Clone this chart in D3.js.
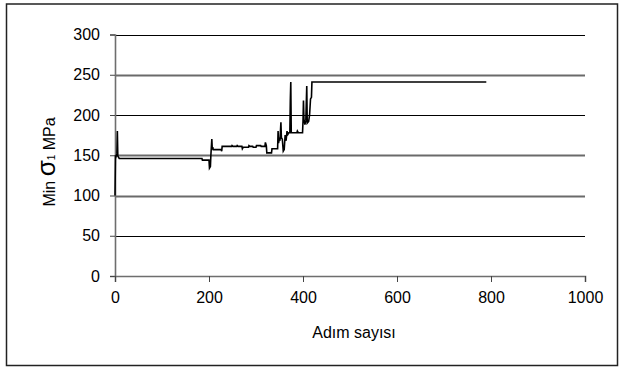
<!DOCTYPE html>
<html>
<head>
<meta charset="utf-8">
<script src="https://cdn.jsdelivr.net/npm/d3@7"></script>
<style>
  html, body { margin: 0; padding: 0; background: #fff; }
  svg { display: block; font-family: "Liberation Sans", Arial, sans-serif; }
</style>
</head>
<body>
<svg id="chart" width="619" height="367"></svg>
<script>
// Step number (Adım sayısı) and minimum principal stress σ1 (MPa)
const steps = [0, 1, 2, 4, 5, 6, 8, 9, 185, 186, 200, 201, 203, 204, 206, 207, 208, 209, 226, 227,
  228, 248, 249, 251, 259, 260, 262, 270, 271, 273, 284, 285, 287, 293, 294, 300, 301, 310, 311, 319,
  320, 322, 323, 333, 334, 346, 347, 348, 350, 351, 353, 354, 356, 358, 360, 362, 364, 366, 368, 370,
  372, 373, 374, 375, 387, 388, 390, 399, 400, 401, 402, 404, 406, 408, 409, 412, 414, 416, 418, 419, 790];
const sigma1 = [100, 150, 148, 152, 180, 149, 147, 146, 146, 144, 144, 134, 136, 150, 170, 157, 160, 157, 157, 155,
  161, 161, 162, 161, 161, 162, 161, 161, 158, 160, 160, 162, 161, 161, 160, 160, 162, 162, 161, 161,
  166, 162, 153, 153, 158, 158, 180, 165, 172, 168, 191, 172, 170, 155, 157, 175, 168, 180, 176, 178,
  178, 218, 241, 178, 178, 180, 178, 178, 192, 218, 195, 188, 193, 236, 190, 192, 200, 220, 222, 241, 241];

const xTicks = [0, 200, 400, 600, 800, 1000];
const yTicks = [0, 50, 100, 150, 200, 250, 300];

const svg = d3.select("#chart");
const plotLeft = 115, plotRight = 585, plotTop = 34.5, plotBottom = 276;

const x = d3.scaleLinear().domain([0, 1000]).range([plotLeft, plotRight]);
const y = d3.scaleLinear().domain([0, 300]).range([plotBottom, plotTop]);

// outer frame
svg.append("rect")
  .attr("x", 6.5).attr("y", 4).attr("width", 611).attr("height", 361.5)
  .attr("fill", "none").attr("stroke", "#222").attr("stroke-width", 1.5);

// horizontal gridlines
const softGrid = v => v === 250 || v === 150 || v === 100;
svg.append("g")
  .selectAll("line")
  .data(yTicks.filter(v => v > 0))
  .join("line")
  .attr("x1", plotLeft).attr("x2", plotRight)
  .attr("y1", d => Math.round(y(d)) + 0.5).attr("y2", d => Math.round(y(d)) + 0.5)
  .attr("stroke", d => softGrid(d) ? "#6a6a6a" : "#000")
  .attr("stroke-width", d => softGrid(d) ? 1.8 : 1);

// axes
const fontSize = "16px";
const yAxis = svg.append("g")
  .attr("transform", `translate(${plotLeft},0)`)
  .call(d3.axisLeft(y).tickValues(yTicks).tickFormat(d3.format("d")).tickSize(5).tickPadding(10));
const xAxis = svg.append("g")
  .attr("transform", `translate(0,${plotBottom})`)
  .call(d3.axisBottom(x).tickValues(xTicks).tickFormat(d3.format("d")).tickSize(6).tickPadding(10));

[yAxis, xAxis].forEach(g => {
  g.select(".domain").attr("stroke", "#6e6e6e").attr("stroke-width", 1.6);
  g.selectAll(".tick line").attr("stroke", "#444");
  g.selectAll(".tick text").attr("fill", "#000").style("font-size", fontSize)
    .style("font-family", "'Liberation Sans', Arial, sans-serif");
});

// data line
const line = d3.line()
  .x((d, i) => x(steps[i]))
  .y(d => y(d));
svg.append("path")
  .attr("d", line(sigma1))
  .attr("fill", "none")
  .attr("stroke", "#000")
  .attr("stroke-width", 1.6)
  .attr("stroke-linejoin", "miter");

// axis titles
svg.append("text")
  .attr("x", 354).attr("y", 338)
  .attr("text-anchor", "middle")
  .style("font-size", fontSize)
  .text("Adım sayısı");

const yt = svg.append("text")
  .attr("transform", "translate(55,162) rotate(-90)")
  .attr("text-anchor", "middle")
  .style("font-size", "16px");
yt.append("tspan").text("Min ");
yt.append("tspan").style("font-size", "26px").text("σ");
yt.append("tspan").style("font-size", "10px").text("1");
yt.append("tspan").text(" MPa");
</script>
</body>
</html>
